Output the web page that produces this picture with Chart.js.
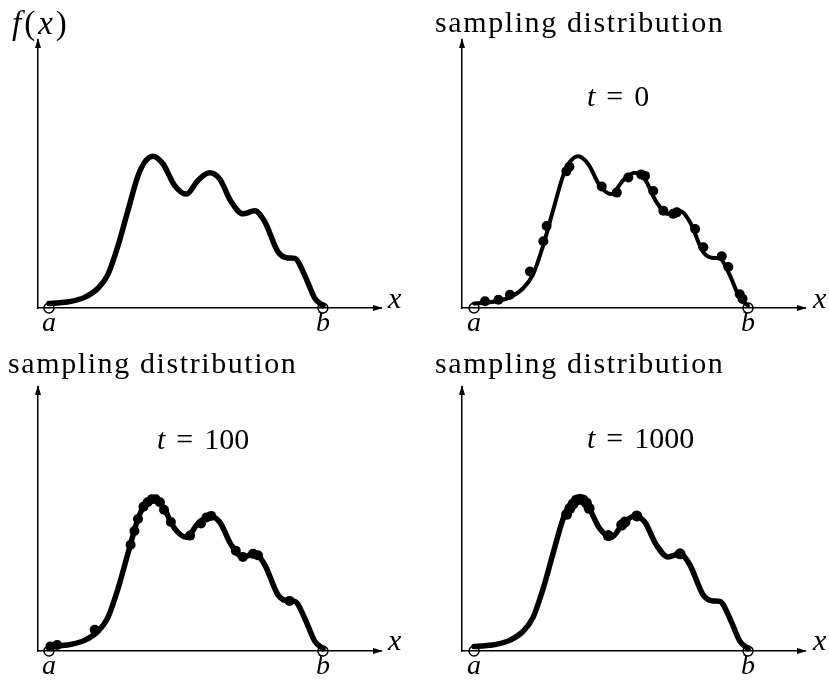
<!DOCTYPE html>
<html>
<head>
<meta charset="utf-8">
<script src="https://cdn.jsdelivr.net/npm/chart.js@4.4.1/dist/chart.umd.min.js"></script>
<style>
    html, body { margin: 0; padding: 0; background: #fff; overflow: hidden; }
    #page { position: relative; width: 829px; height: 685px; }
    canvas { position: absolute; }
    .lbl { position: absolute; font-family: 'Liberation Serif', serif; font-size: 30px; line-height: 1; white-space: nowrap; color: #000; }
    .title { letter-spacing: 1.6px; }
    .eq { margin: 0 11px; }
</style>
</head>
<body>
<div id="page">
    <canvas id="c1" width="414" height="346" style="left:0;top:0"></canvas>
    <canvas id="c2" width="415" height="346" style="left:414px;top:0"></canvas>
    <canvas id="c3" width="414" height="339" style="left:0;top:346px"></canvas>
    <canvas id="c4" width="415" height="339" style="left:414px;top:346px"></canvas>

    <div class="lbl" style="left:12px;top:7px;font-size:33px;letter-spacing:3px"><i>f</i>(<i>x</i>)</div>
    <div class="lbl title" style="left:435px;top:7px">sampling distribution</div>
    <div class="lbl title" style="left:8px;top:348px">sampling distribution</div>
    <div class="lbl title" style="left:435px;top:348px">sampling distribution</div>

    <div class="lbl" style="left:587px;top:81px"><i>t</i><span class="eq">=</span>0</div>
    <div class="lbl" style="left:157px;top:424px"><i>t</i><span class="eq">=</span>100</div>
    <div class="lbl" style="left:587px;top:423px"><i>t</i><span class="eq">=</span>1000</div>

    <div class="lbl" style="left:388px;top:283px"><i>x</i></div>
    <div class="lbl" style="left:813px;top:283px"><i>x</i></div>
    <div class="lbl" style="left:388px;top:625px"><i>x</i></div>
    <div class="lbl" style="left:813px;top:625px"><i>x</i></div>
</div>
<script>
// target density f(x) on [a, b], x rescaled to 0..1
const curveX = [0, 0.04, 0.081, 0.13, 0.179, 0.215, 0.252, 0.288, 0.325, 0.349, 0.38, 0.416, 0.459, 0.501,
    0.544, 0.586, 0.623, 0.665, 0.708, 0.751, 0.787, 0.836, 0.872, 0.897, 0.933, 0.97, 1.0];
const curveY = [3, 3.5, 4.4, 7, 13, 22, 41, 64, 87, 96, 100, 95, 80.6, 75,
    84, 89, 85, 70, 62, 64, 57, 37, 33, 32.7, 21.8, 6.5, 1.5];

// sample positions at each step
const t0X = [0.04, 0.089, 0.131, 0.204, 0.253, 0.265, 0.337, 0.348, 0.466, 0.521, 0.563, 0.61, 0.624,
    0.654, 0.691, 0.727, 0.74, 0.807, 0.837, 0.904, 0.928, 0.97, 0.98];
const t0Y = [4.4, 5.4, 8.7, 24, 44, 54, 90, 93, 80, 76, 86, 88, 87,
    77, 64, 62, 63, 52, 40, 34, 27, 9, 6];

const t100X = [0.005, 0.03, 0.167, 0.298, 0.312, 0.325, 0.345, 0.36, 0.375, 0.39, 0.405, 0.42, 0.445,
    0.515, 0.555, 0.575, 0.592, 0.682, 0.708, 0.745, 0.763, 0.878];
const t100Y = [3, 4, 14, 70, 79, 87, 95, 98, 100, 100, 98, 93, 85,
    76, 84, 88, 89, 66, 62, 64, 63, 33];

const t1000X = [0.338, 0.35, 0.362, 0.374, 0.386, 0.398, 0.41, 0.42, 0.49, 0.539, 0.551, 0.594, 0.752];
const t1000Y = [90, 94, 97, 99.5, 100, 99.5, 97.5, 94, 76, 83, 85, 89, 64];

const endTicks = [0, 1];
const tickLabels = ['a', 'b'];

const pts = (xs, ys) => xs.map((x, i) => ({ x: x, y: ys[i] }));

const arrowPlugin = {
    id: 'arrows',
    afterDraw(chart) {
        const { ctx, chartArea: { left, right, top, bottom } } = chart;
        ctx.save();
        ctx.fillStyle = '#000';
        ctx.beginPath();
        ctx.moveTo(left, top - 2);
        ctx.lineTo(left - 3, top + 8);
        ctx.lineTo(left + 3, top + 8);
        ctx.closePath();
        ctx.fill();
        ctx.beginPath();
        ctx.moveTo(right + 2, bottom);
        ctx.lineTo(right - 8, bottom - 3);
        ctx.lineTo(right - 8, bottom + 3);
        ctx.closePath();
        ctx.fill();
        ctx.restore();
    }
};

function makePanel(id, dots, cfg) {
    const datasets = [];
    if (dots) {
        datasets.push({
            data: dots, showLine: false, pointRadius: cfg.dotR,
            pointBackgroundColor: '#000', pointBorderWidth: 0, clip: false
        });
    }
    datasets.push({
        data: pts(curveX, curveY), showLine: true, pointRadius: 0,
        borderColor: '#000', borderWidth: cfg.lw, cubicInterpolationMode: 'monotone',
        borderCapStyle: 'round', fill: false, clip: false
    });
    datasets.push({
        data: pts(endTicks, [0, 0]), showLine: false, pointRadius: 5,
        pointBackgroundColor: 'rgba(0,0,0,0)', pointBorderColor: '#000', pointBorderWidth: 1.5, clip: false
    });

    new Chart(document.getElementById(id), {
        type: 'scatter',
        data: { datasets },
        options: {
            responsive: false,
            animation: false,
            events: [],
            layout: { padding: cfg.pad },
            plugins: { legend: { display: false }, tooltip: { enabled: false } },
            scales: {
                x: {
                    type: 'linear', min: cfg.xMin, max: cfg.xMax,
                    grid: { display: false, drawTicks: false },
                    border: { display: true, color: '#000', width: 1.5 },
                    afterBuildTicks: s => { s.ticks = endTicks.map(v => ({ value: v })); },
                    ticks: {
                        autoSkip: false, maxRotation: 0, padding: 2, color: '#000',
                        font: { family: 'Liberation Serif', style: 'italic', size: 28, lineHeight: 1 },
                        callback: v => tickLabels[endTicks.indexOf(v)]
                    }
                },
                y: {
                    type: 'linear', min: 0, max: cfg.yMax,
                    grid: { display: false, drawTicks: false },
                    border: { display: true, color: '#000', width: 1.5 },
                    ticks: { display: false }
                }
            }
        },
        plugins: [arrowPlugin]
    });
}

makePanel('c1', null, { lw: 5.5, dotR: 0, xMin: -0.040, xMax: 1.212, yMax: 176.5,
    pad: { left: 38, top: 40, right: 33, bottom: 6 } });
makePanel('c2', pts(t0X, t0Y), { lw: 4, dotR: 5, xMin: -0.044, xMax: 1.208, yMax: 176.5,
    pad: { left: 48, top: 40, right: 24, bottom: 6 } });
makePanel('c3', pts(t100X, t100Y), { lw: 5.5, dotR: 5, xMin: -0.040, xMax: 1.212, yMax: 173.9,
    pad: { left: 38, top: 41, right: 33, bottom: 2 } });
makePanel('c4', pts(t1000X, t1000Y), { lw: 5.5, dotR: 5.5, xMin: -0.044, xMax: 1.208, yMax: 173.9,
    pad: { left: 48, top: 41, right: 24, bottom: 2 } });
</script>
</body>
</html>
